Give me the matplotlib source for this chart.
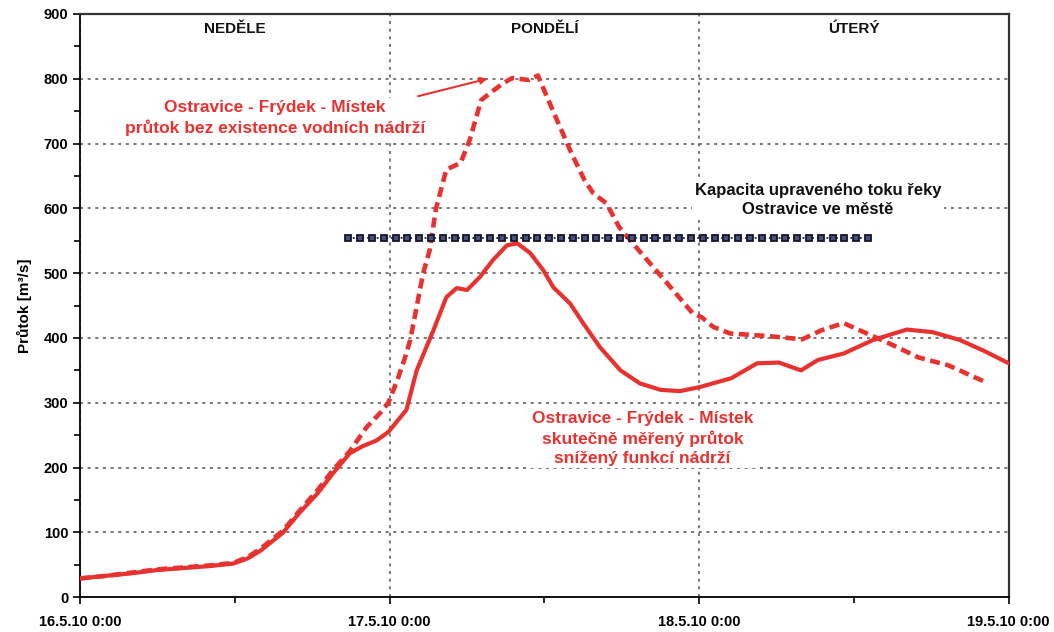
import numpy as np
import matplotlib
matplotlib.use("Agg")
import matplotlib.pyplot as plt

plt.rcParams['font.family'] = ['Liberation Sans', 'DejaVu Sans']
plt.rcParams['font.weight'] = 'bold'

# hodiny od 16.5.10 0:00
hod_mereny = [0, 2, 4, 6, 8, 10, 11.9, 13.0, 14.0, 15.0, 15.7, 17.0, 18.4, 19.6,
              20.9, 21.9, 23.0, 23.9, 25.3, 26.1, 27.4, 28.4, 29.2, 30.0, 31.0,
              32.0, 33.1, 33.9, 34.9, 35.9, 36.7, 38.0, 39.0, 40.3, 41.9, 43.4,
              45.0, 46.5, 48.0, 50.5, 52.5, 54.2, 55.9, 57.2, 59.2, 61.5, 64.1,
              66.1, 68.2, 70.1, 72.0]
q_mereny = [29, 33, 37, 42, 45, 48, 52, 60, 72, 88, 99, 130, 160, 191,
            222, 233, 242, 255, 289, 350, 412, 463, 477, 474, 494,
            520, 543, 546, 531, 505, 478, 453, 423, 386, 350, 330,
            320, 318, 324, 338, 361, 362, 350, 366, 376, 397, 413,
            409, 397, 380, 361]

hod_bez = [0, 2, 4, 6, 8, 10, 11.9, 13.0, 14.0, 15.0, 15.7, 17.0, 18.4, 19.6,
           20.9, 22.2, 23.3, 23.9, 24.6, 25.2, 25.6, 26.6, 27.1, 27.6, 28.4,
           29.5, 30.2, 31.1, 31.8, 32.8, 33.5, 34.8, 35.5, 36.2, 37.2, 38.1,
           39.1, 39.8, 40.8, 41.8, 43.5, 45.5, 47.5, 48.2, 49.1, 50.4, 53.3,
           56.0, 57.5, 59.2, 61.0, 62.7, 65.0, 67.3, 70.2]
q_bez = [29, 33, 38, 43, 46, 49, 53, 62, 75, 91, 102, 133, 165, 196,
         225, 262, 285, 300, 335, 370, 397, 500, 535, 600, 660,
         670, 705, 767, 778, 793, 801, 798, 805, 772, 726, 685,
         644, 623, 608, 571, 531, 485, 438, 432, 417, 407, 403,
         398, 412, 423, 407, 392, 370, 358, 332]

kapacita_hod = [20.8, 61.1]
kapacita_q = [555, 555]

x_ticks = [0, 24, 48, 72]
x_labels = ['16.5.10 0:00', '17.5.10 0:00', '18.5.10 0:00', '19.5.10 0:00']
dny = ['NEDĚLE', 'PONDĚLÍ', 'ÚTERÝ']

cervena = '#e8322f'

fig = plt.figure(figsize=(10.54, 6.32), dpi=100)
ax = fig.add_axes([0.076, 0.055, 0.881, 0.923])

ax.plot(hod_mereny, q_mereny, color=cervena, lw=3.0, zorder=4,
        solid_joinstyle='round', solid_capstyle='round')
ax.plot(hod_bez, q_bez, color=cervena, lw=3.3, ls=(0, (2.2, 1.2)), zorder=4)

kap = np.linspace(kapacita_hod[0], kapacita_hod[1], 45)
ax.plot(kap, np.full_like(kap, kapacita_q[0]), color='#1a1a3a', lw=1.3, ls=':',
        marker='s', ms=4.2, mfc='#4a5278', mec='#15152e', mew=1.3, zorder=5)

ax.set_xlim(0, 72)
ax.set_ylim(0, 900)
ax.set_xticks(x_ticks)
ax.set_xticklabels(x_labels, fontsize=10.5, fontweight='bold')
ax.set_xticks([12, 36, 60], minor=True)
ax.set_yticks(range(0, 901, 100))
ax.set_yticks(range(50, 900, 100), minor=True)
ax.tick_params(axis='y', labelsize=10.5, length=5, width=1.2)
ax.tick_params(axis='x', length=5, width=1.2, pad=8)
ax.tick_params(which='minor', length=4, width=1.2)
for lab in ax.get_yticklabels():
    lab.set_fontweight('bold')

ax.grid(True, which='major', color='#555555', ls=(0, (2, 3)), lw=1.1)
ax.set_axisbelow(True)
for s in ['left', 'bottom']:
    ax.spines[s].set_linewidth(1.3)
for s in ['top', 'right']:
    ax.spines[s].set_linewidth(1.6)
    ax.spines[s].set_linestyle((0, (3, 1)))
    ax.spines[s].set_color('#333333')

ax.set_ylabel('Průtok [m³/s]', fontsize=11, fontweight='bold', labelpad=8)

for i, d in enumerate(dny):
    ax.text(12 + 24 * i, 876, d, ha='center', va='center', fontsize=11,
            fontweight='bold', color='#111111')

bbox = dict(facecolor='white', edgecolor='none', pad=2)
ax.text(15.1, 739, 'Ostravice - Frýdek - Místek\nprůtok bez existence vodních nádrží',
        ha='center', va='center', fontsize=12.5, fontweight='bold', color=cervena,
        linespacing=1.3, bbox=bbox, zorder=3)
ax.text(43.6, 245, 'Ostravice - Frýdek - Místek\nskutečně měřený průtok\nsnížený funkcí nádrží',
        ha='center', va='center', fontsize=12.5, fontweight='bold', color=cervena,
        linespacing=1.3, bbox=bbox, zorder=3)
ax.text(57.2, 613, 'Kapacita upraveného toku řeky\nOstravice ve městě',
        ha='center', va='center', fontsize=12, fontweight='bold', color='#111111',
        linespacing=1.3, bbox=bbox, zorder=3)

ax.annotate('', xy=(31.8, 801), xytext=(26.0, 772),
            arrowprops=dict(arrowstyle='-|>', color=cervena, lw=1.5,
                            mutation_scale=10), zorder=5)

fig.savefig('out.png', dpi=100)
